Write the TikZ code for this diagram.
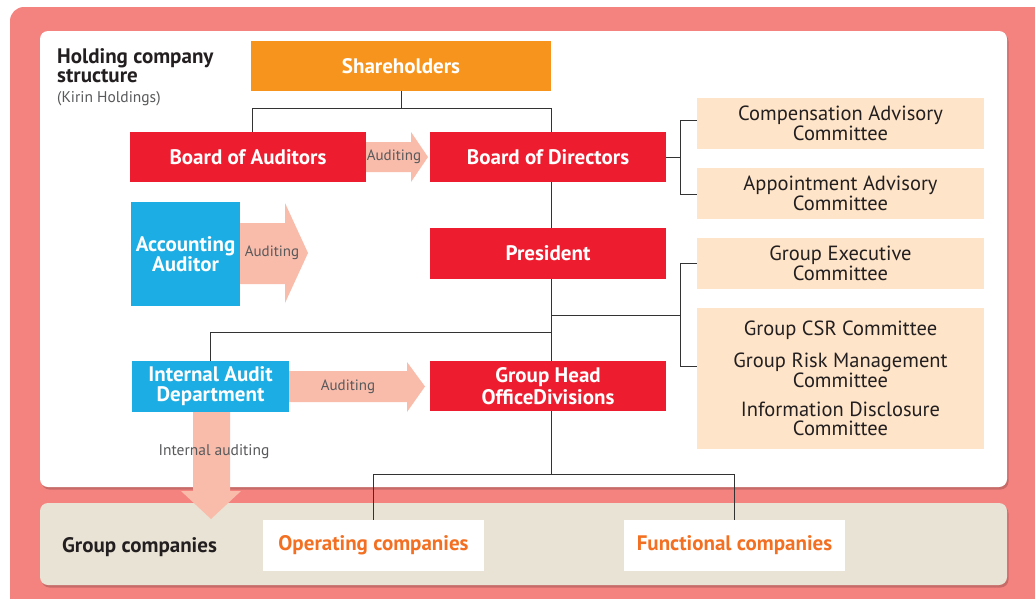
\documentclass[tikz,border=0pt]{standalone}
\usepackage{fontspec}
\setmainfont{PT Sans}
\usetikzlibrary{calc,shadows}
\definecolor{outerpink}{RGB}{244,131,127}
\definecolor{kred}{RGB}{237,28,46}
\definecolor{korange}{RGB}{247,148,29}
\definecolor{kcyan}{RGB}{27,173,227}
\definecolor{kpeach}{RGB}{249,188,171}
\definecolor{kcream}{RGB}{254,228,200}
\definecolor{kbeige}{RGB}{232,227,212}
\definecolor{ktextorange}{RGB}{243,111,33}
\definecolor{kdark}{RGB}{35,31,32}
\definecolor{kgray}{RGB}{88,89,91}
\definecolor{kline}{RGB}{51,51,51}
\begin{document}
\begin{tikzpicture}[x=1pt,y=-1pt,
  solid box/.style={inner sep=0pt, align=center, text=white,
    font=\bfseries\fontsize{21}{20}\selectfont},
  redbox/.style={solid box, fill=kred, minimum width=236pt, minimum height=50pt},
  bluebox/.style={solid box, fill=kcyan},
  combox/.style={inner sep=0pt, align=center, fill=kcream, text=kdark,
    minimum width=287pt, font=\fontsize{20.5}{19.5}\selectfont},
  compbox/.style={inner sep=0pt, align=center, fill=white, text=ktextorange,
    minimum width=221pt, minimum height=51pt, font=\bfseries\fontsize{21}{20}\selectfont},
  arrowlabel/.style={inner sep=0pt, text=kgray, font=\fontsize{15}{16}\selectfont},
  conn/.style={draw=kline, line width=0.9pt},
  fat/.style={fill=kpeach}]
\useasboundingbox (0,0) rectangle (1035,598);
\clip (0,0) rectangle (1035,598);
% panels
\fill[outerpink, rounded corners=14pt] (10,7) rectangle (1070,630);
\path[fill=white, rounded corners=8pt,
  drop shadow={shadow xshift=1.5pt, shadow yshift=-2.5pt, fill=black, opacity=0.18}]
  (40,31) rectangle (1007,487);
\path[fill=kbeige, rounded corners=8pt,
  drop shadow={shadow xshift=1.5pt, shadow yshift=-2.5pt, fill=black, opacity=0.18}]
  (40,503) rectangle (1007,585);

% title
\node[anchor=west, inner sep=0pt, align=left, text=kdark,
  font=\bfseries\fontsize{21}{19}\selectfont] (title) at (57,66) {Holding company\\structure};
\node[anchor=west, inner sep=0pt, text=kgray, font=\fontsize{15.5}{16}\selectfont]
  (kirin) at (57,99) {(Kirin Holdings)};

% main boxes
\node[solid box, fill=korange, minimum width=300pt, minimum height=50pt] (sh) at (401,66) {Shareholders};
\node[redbox] (boa) at (248,157) {Board of Auditors};
\node[redbox] (bod) at (548,157) {Board of Directors};
\node[redbox, minimum height=51pt] (pres) at (548,253.5) {President};
\node[redbox, font=\bfseries\fontsize{21}{22}\selectfont] (ghod) at (548,386) {Group Head\\OfficeDivisions};
\node[bluebox, minimum width=109pt, minimum height=104pt] (aca) at (185.5,254) {Accounting\\Auditor};
\node[bluebox, minimum width=157pt, minimum height=51pt] (iad) at (210.5,386.5) {Internal Audit\\Department};

% committees
\node[combox, minimum height=51pt] (cac) at (840.5,123.5) {Compensation Advisory\\Committee};
\node[combox, minimum height=51pt] (aac) at (840.5,193.5) {Appointment Advisory\\Committee};
\node[combox, minimum height=51pt] (gec) at (840.5,263.5) {Group Executive\\Committee};
\node[combox, minimum height=141pt] (csr) at (840.5,378.5) {Group CSR Committee\\[12.5pt]Group Risk Management\\Committee\\[9.5pt]Information Disclosure\\Committee};

% group companies
\node[anchor=west, inner sep=0pt, text=kdark, font=\bfseries\fontsize{21}{19}\selectfont]
  (gc) at (62,547) {Group companies};
\node[compbox] (opc) at (373.5,545.5) {Operating companies};
\node[compbox] (fnc) at (734.5,545.5) {Functional companies};

% connectors
\coordinate (tx) at (551.5,0);
\coordinate (split) at (401,108);
\draw[conn] (sh.south) -- (split);
\draw[conn] (split) -| ($(boa.north)+(4,0)$);
\draw[conn] (split) -| (bod.north -| tx);
\draw[conn] (bod.south -| tx) -- (pres.north -| tx);
\draw[conn] (pres.south -| tx) -- (ghod.north -| tx);
\coordinate (jl) at (551.5,332);
\draw[conn] (jl) -| (iad.north);
\coordinate (jr) at (551.5,315);
\coordinate (brk2) at (681,315);
\draw[conn] (jr) -- (brk2);
\coordinate (csrtop) at (697,366);
\draw[conn] (gec.west) -- ++(-16,0) |- (csrtop);
\coordinate (brk1) at (681,157);
\draw[conn] (bod.east) -- (brk1);
\draw[conn] ($(cac.west)+(0,-3.5)$) -- ++(-16,0) |- ($(aac.west)+(0,0.5)$);
\coordinate (jb) at (551.5,474);
\draw[conn] (ghod.south -| tx) -- (jb);
\draw[conn] (jb) -| (opc.north);
\draw[conn] (jb) -| (fnc.north);

% fat arrows
\fill[fat] (366,142) -- (411,142) -- (411,132) -- (428,157) -- (411,182) -- (411,172) -- (366,172) -- cycle;
\node[arrowlabel] (a1) at (394,157) {Auditing};
\fill[fat] (240,223) -- (285,223) -- (285,203) -- (308,253) -- (285,303) -- (285,284) -- (240,284) -- cycle;
\node[arrowlabel] (a2) at (272,253) {Auditing};
\fill[fat] (289,371) -- (407,371) -- (407,362) -- (425,386.5) -- (407,412) -- (407,402) -- (289,402) -- cycle;
\node[arrowlabel] (a3) at (348,386.5) {Auditing};
\fill[fat] (193,412) -- (230,412) -- (230,491) -- (241,491) -- (211,519) -- (181,491) -- (193,491) -- cycle;
\node[arrowlabel, font=\fontsize{15.5}{16}\selectfont] (a4) at (214,452) {Internal auditing};
\end{tikzpicture}
\end{document}
